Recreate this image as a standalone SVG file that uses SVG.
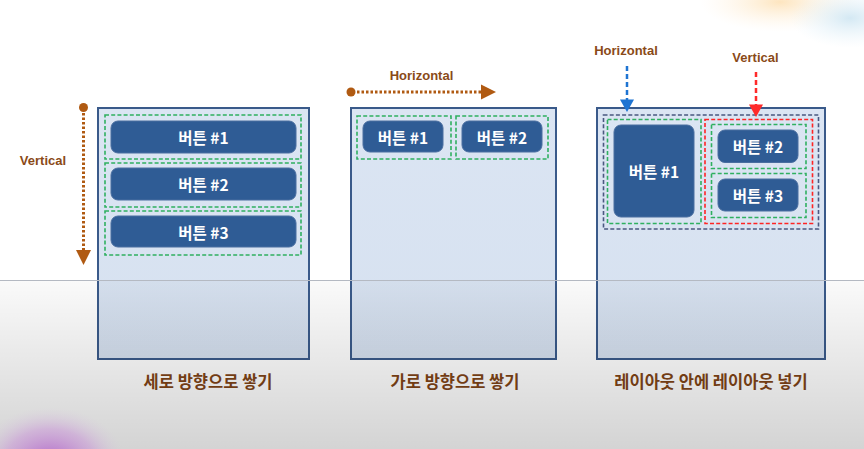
<svg xmlns="http://www.w3.org/2000/svg" width="864" height="449" viewBox="0 0 864 449">
<defs>
<style>
.panel{fill:url(#pg);stroke:#3a5a8a;stroke-width:2}
.btn{fill:#2f5c95;stroke:#4a6ea0;stroke-width:1}
.bt{font-family:"Noto Sans CJK KR","Liberation Sans",sans-serif;font-weight:700;font-size:15.5px;fill:#ffffff;text-anchor:middle;dominant-baseline:central}
.gd{fill:none;stroke:#2fb060;stroke-width:1.6;stroke-dasharray:4 2.2}
.nd{fill:none;stroke:#4a5880;stroke-width:1.6;stroke-dasharray:4 2.2}
.rd{fill:none;stroke:#ff2424;stroke-width:1.6;stroke-dasharray:4 2.2}
.lbl{font-family:"Noto Sans CJK KR","Liberation Sans",sans-serif;font-weight:700;font-size:16.5px;fill:#7f4416;text-anchor:middle;dominant-baseline:central}
.dir{font-family:"Liberation Sans","Noto Sans",sans-serif;font-weight:700;font-size:13px;fill:#8a4a18;text-anchor:middle;dominant-baseline:central}
.dot{fill:none;stroke:#b05a12;stroke-width:3;stroke-dasharray:2.5 2}
</style>
<linearGradient id="pg" x1="0" y1="0" x2="0" y2="1">
<stop offset="0" stop-color="#dbe5f3"/>
<stop offset="1" stop-color="#d6e1f0"/>
</linearGradient>
<linearGradient id="shade" x1="0" y1="0" x2="0" y2="1">
<stop offset="0" stop-color="#000" stop-opacity="0.02"/>
<stop offset="1" stop-color="#000" stop-opacity="0.17"/>
</linearGradient>
<radialGradient id="purp" cx="0.5" cy="0.5" r="0.5">
<stop offset="0" stop-color="#b060c8" stop-opacity="0.95"/>
<stop offset="0.6" stop-color="#c890d8" stop-opacity="0.5"/>
<stop offset="1" stop-color="#d8c8e0" stop-opacity="0"/>
</radialGradient>
<radialGradient id="warm" cx="0.5" cy="0.5" r="0.5">
<stop offset="0" stop-color="#fde2b8" stop-opacity="0.9"/>
<stop offset="1" stop-color="#fff4e4" stop-opacity="0"/>
</radialGradient>
<radialGradient id="cool" cx="0.5" cy="0.5" r="0.5">
<stop offset="0" stop-color="#cfe6f2" stop-opacity="0.9"/>
<stop offset="1" stop-color="#e8f4fa" stop-opacity="0"/>
</radialGradient>
</defs>

<rect x="0" y="0" width="864" height="449" fill="#ffffff"/>
<ellipse cx="780" cy="2" rx="80" ry="30" fill="url(#warm)"/>
<ellipse cx="850" cy="18" rx="60" ry="30" fill="url(#cool)"/>

<g id="panel-vertical">
<rect class="panel" x="98" y="108" width="211" height="251"/>
<rect class="gd" x="105" y="115" width="196" height="44"/>
<rect class="gd" x="105" y="163" width="196" height="44"/>
<rect class="gd" x="105" y="211" width="196" height="44"/>
</g>
<g id="v-btn1"><rect class="btn" x="111" y="121" width="185" height="32" rx="7"/><text class="bt" x="203.5" y="137">버튼 #1</text></g>
<g id="v-btn2"><rect class="btn" x="111" y="168" width="185" height="32" rx="7"/><text class="bt" x="203.5" y="184">버튼 #2</text></g>
<g id="v-btn3"><rect class="btn" x="111" y="216" width="185" height="31" rx="7"/><text class="bt" x="203.5" y="231.5">버튼 #3</text></g>
<g id="v-label"><text class="dir" x="43" y="160">Vertical</text></g>
<g id="v-caption"><text class="lbl" x="208" y="381">세로 방향으로 쌓기</text></g>

<g id="panel-horizontal">
<rect class="panel" x="351" y="108" width="205" height="251"/>
<rect class="gd" x="357" y="116" width="94" height="43"/>
<rect class="gd" x="456" y="116" width="92" height="43"/>
</g>
<g id="h-btn1"><rect class="btn" x="363" y="121" width="80" height="31" rx="7"/><text class="bt" x="403" y="136.5">버튼 #1</text></g>
<g id="h-btn2"><rect class="btn" x="462" y="121" width="80" height="31" rx="7"/><text class="bt" x="502" y="136.5">버튼 #2</text></g>
<g id="h-label"><text class="dir" x="421.5" y="75">Horizontal</text></g>
<g id="h-caption"><text class="lbl" x="455" y="381">가로 방향으로 쌓기</text></g>

<g id="panel-nested">
<rect class="panel" x="597" y="108" width="228" height="251"/>
<rect class="nd" x="603.5" y="115" width="215" height="114"/>
<rect class="gd" x="607.5" y="119.5" width="93.5" height="104"/>
<rect class="rd" x="705" y="119.5" width="107.5" height="104"/>
<rect class="gd" x="711.5" y="124.5" width="94.5" height="44"/>
<rect class="gd" x="711.5" y="173.5" width="94.5" height="44"/>
</g>
<g id="n-btn1"><rect class="btn" x="614" y="125" width="80" height="92" rx="7"/><text class="bt" x="654" y="171">버튼 #1</text></g>
<g id="n-btn2"><rect class="btn" x="718" y="130" width="80" height="32.5" rx="7"/><text class="bt" x="758" y="146">버튼 #2</text></g>
<g id="n-btn3"><rect class="btn" x="718" y="179" width="80" height="32" rx="7"/><text class="bt" x="758" y="195">버튼 #3</text></g>
<g id="n-hlabel"><text class="dir" x="626" y="50">Horizontal</text></g>
<g id="n-vlabel"><text class="dir" x="755.5" y="57">Vertical</text></g>
<g id="n-caption"><text class="lbl" x="711" y="381">레이아웃 안에 레이아웃 넣기</text></g>

<g id="connectors">
<circle cx="83.5" cy="107.5" r="4.5" fill="#b05a12"/>
<line class="dot" x1="83.5" y1="113" x2="83.5" y2="250"/>
<polygon points="76,250 91,250 83.5,265" fill="#b05a12"/>
<circle cx="351" cy="92" r="4.5" fill="#b05a12"/>
<line class="dot" x1="357" y1="92" x2="482" y2="92"/>
<polygon points="481,84.5 481,99.5 496,92" fill="#b05a12"/>
<line x1="627" y1="66" x2="627" y2="100" stroke="#1e74d2" stroke-width="2.5" stroke-dasharray="5 3"/>
<polygon points="620,99.5 634,99.5 627,112" fill="#1e74d2"/>
<line x1="756" y1="72" x2="756" y2="105" stroke="#ff2a2a" stroke-width="2.5" stroke-dasharray="5 3"/>
<polygon points="749,104.5 763,104.5 756,117" fill="#ff2a2a"/>
</g>

<rect x="0" y="280" width="864" height="169" fill="url(#shade)"/>
<line x1="0" y1="280.5" x2="864" y2="280.5" stroke="#b4b9c2" stroke-width="1"/>
<ellipse cx="50" cy="462" rx="75" ry="55" fill="url(#purp)"/>
</svg>
